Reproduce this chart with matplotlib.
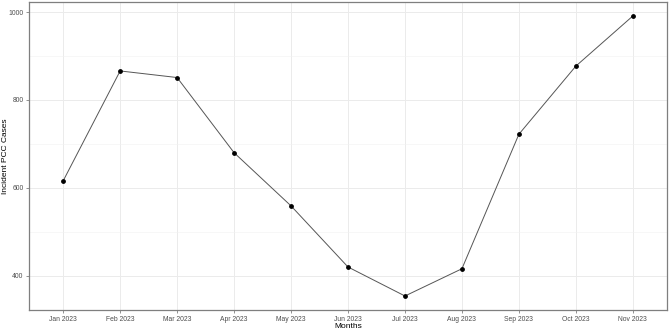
import matplotlib
matplotlib.use("Agg")
import matplotlib.pyplot as plt
import numpy as np

months = ["Jan 2023", "Feb 2023", "Mar 2023", "Apr 2023", "May 2023", "Jun 2023",
          "Jul 2023", "Aug 2023", "Sep 2023", "Oct 2023", "Nov 2023"]
cases = [616, 866, 851, 680, 559, 420, 354, 416, 722, 877, 991]
y_ticks = [400, 600, 800, 1000]
y_minor = [500, 700, 900]

plt.rcParams['font.family'] = ['Liberation Sans', 'DejaVu Sans']
fig = plt.figure(figsize=(6.69, 3.30), dpi=100)
ax = fig.add_axes([29/669, 20/330, 638/669, 308/330])

x = np.arange(1, len(months) + 1)
ax.plot(x, cases, color="#555555", lw=0.7, zorder=3)
ax.scatter(x, cases, color="black", s=6, zorder=4)

ax.set_xlim(0.4, len(months) + 0.6)
yr = max(cases) - min(cases)
ax.set_ylim(min(cases) - 0.05 * yr, max(cases) + 0.05 * yr)

ax.set_xticks(x)
ax.set_xticklabels(months)
ax.set_yticks(y_ticks)
ax.set_yticks(y_minor, minor=True)

ax.grid(True, which="major", color="#EBEBEB", lw=0.7)
ax.grid(True, which="minor", axis="y", color="#F2F2F2", lw=0.4)
ax.set_axisbelow(True)

for s in ax.spines.values():
    s.set_color("#7F7F7F")
    s.set_linewidth(0.9)

ax.tick_params(axis="both", which="major", colors="#7F7F7F", labelcolor="#4D4D4D",
               labelsize=4.9, length=2.5, width=0.6, pad=1.5)
ax.tick_params(axis="both", which="minor", length=0)

ax.set_xlabel("Months", fontsize=6, color="black")
ax.xaxis.set_label_coords(0.5, (310 - 322.5) / 308)
fig.text(5.5 / 669, 1 - 156 / 330, "Incident PCC Cases", rotation=90,
         ha="center", va="center", fontsize=6, color="black")

fig.savefig("out.png", dpi=100)
